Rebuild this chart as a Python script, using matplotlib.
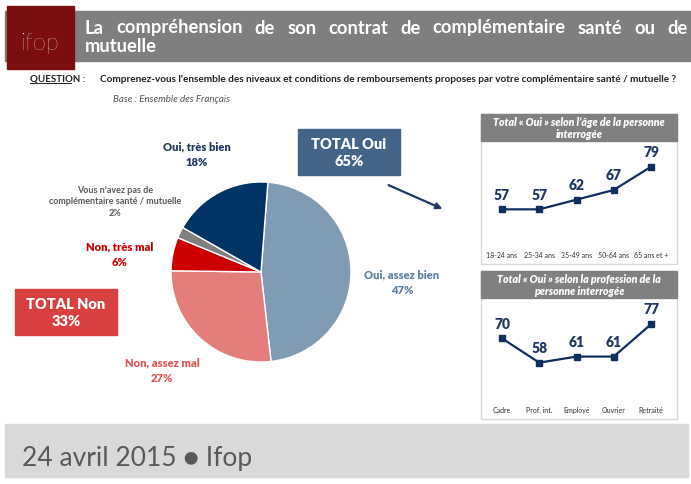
import matplotlib.pyplot as plt
from matplotlib.patches import Rectangle, FancyArrowPatch

plt.rcParams["font.family"] = ["Lato", "DejaVu Sans"]

# pie data
pie_labels = ["Oui, assez bien", "Non, assez mal", "Non, très mal",
              "Vous n'avez pas de\ncomplémentaire santé / mutuelle", "Oui, très bien"]
pie_values = [47, 27, 6, 2, 18]
pie_colors = ["#7f9bb5", "#e57d7b", "#cc0000", "#7f7f7f", "#003366"]

# line panels
age_labels = ["18-24 ans", "25-34 ans", "35-49 ans", "50-64 ans", "65 ans et +"]
age_values = [57, 57, 62, 67, 79]
prof_labels = ["Cadre", "Prof. int.", "Employé", "Ouvrier", "Retraité"]
prof_values = [70, 58, 61, 61, 77]

W, H = 691, 485
fig = plt.figure(figsize=(W / 100, H / 100), dpi=100)
bg = fig.add_axes([0, 0, 1, 1])
bg.set_xlim(0, W)
bg.set_ylim(H, 0)
bg.axis("off")


def fax(x0, y0, x1, y1):
    # pixel box -> figure fraction axes
    return fig.add_axes([x0 / W, (H - y1) / H, (x1 - x0) / W, (y1 - y0) / H])


def justified(words, x0, x1, y, **kw):
    # spread words evenly between x0 and x1 (pixel coords)
    r = fig.canvas.get_renderer()
    texts = [bg.text(0, y, w, va="center", **kw) for w in words]
    widths = []
    for t in texts:
        bb = t.get_window_extent(renderer=r)
        widths.append(bb.width)
    gap = (x1 - x0 - sum(widths)) / (len(words) - 1)
    x = x0
    for t, w in zip(texts, widths):
        t.set_x(x)
        x += w + gap


# header
bg.add_patch(Rectangle((5, 12), 686, 50, color="#7f7f7f"))
bg.add_patch(Rectangle((7, 7), 67, 63, color="#7b0f0f"))
bg.text(40, 44, "ifop", color="white", fontsize=17, fontweight="light",
        ha="center", va="center")
justified("La compréhension de son contrat de complémentaire santé ou de".split(),
          85, 688, 28, color="white", fontsize=13.2, fontweight="bold")
bg.text(85, 47, "mutuelle", color="white", fontsize=13.2, fontweight="bold", va="center")

bg.text(30, 79, "QUESTION :", fontsize=7, fontweight="bold", color="#222222", va="center")
bg.plot([30, 71], [84, 84], color="#222222", lw=0.7)
bg.text(100, 79, "Comprenez-vous l'ensemble des niveaux et conditions de remboursements proposes "
        "par votre complémentaire santé / mutuelle ?", fontsize=7.2, fontweight="bold",
        color="#222222", va="center")
bg.text(113, 99, "Base : Ensemble des Français", fontsize=7, style="italic",
        color="#555555", va="center")

# pie
pax = fax(261 - 90, 273 - 90, 261 + 90, 273 + 90)
pax.pie(pie_values, colors=pie_colors, startangle=85.6, counterclock=False,
        wedgeprops=dict(edgecolor="white", linewidth=1))
pax.set_xlim(-1, 1)
pax.set_ylim(-1, 1)

lab_style = dict(ha="center", va="center", fontsize=8, fontweight="heavy", linespacing=1.5)
bg.text(402, 283, "Oui, assez bien\n47%", color="#5f80a3", **lab_style)
bg.text(162, 371, "Non, assez mal\n27%", color="#e05555", **lab_style)
bg.text(120, 255, "Non, très mal\n6%", color="#cc0000", **lab_style)
bg.text(115, 202, "Vous n'avez pas de\ncomplémentaire santé / mutuelle\n2%",
        color="#595959", ha="center", va="center", fontsize=6.5, fontweight="bold",
        linespacing=1.3)
bg.text(197, 155, "Oui, très bien\n18%", color="#1f3864", **lab_style)

# total boxes
bg.add_patch(Rectangle((15, 290), 102, 46, color="#d94141"))
bg.text(66, 313, "TOTAL Non\n33%", color="white", fontsize=10.5, fontweight="heavy",
        ha="center", va="center", linespacing=1.3)
bg.add_patch(Rectangle((298, 130), 102, 46, color="#426488"))
bg.text(349, 153, "TOTAL Oui\n65%", color="white", fontsize=10.5, fontweight="heavy",
        ha="center", va="center", linespacing=1.3)
bg.add_patch(FancyArrowPatch((386, 185), (445, 211), arrowstyle="-|>", mutation_scale=9,
                             color="#1f3864", lw=1.6))


def panel(y0, y1, title, labels, values, ylim, lab_y):
    bg.add_patch(Rectangle((481, y0), 196, y1 - y0, facecolor="white",
                           edgecolor="#d9d9d9", lw=1))
    bg.add_patch(Rectangle((481, y0), 196, 27, color="#808080"))
    bg.text(579, y0 + 13.5, title, color="white", fontsize=7.6, fontweight="heavy",
            style="italic", ha="center", va="center", linespacing=1.15)
    ax = fax(481, y0 + 27, 677, lab_y)
    xs = list(range(len(values)))
    ax.plot(xs, values, color="#0f2f5f", lw=1.6, marker="s", markersize=5)
    for x, v in zip(xs, values):
        ax.annotate(str(v), (x, v), xytext=(0, 11), textcoords="offset points",
                    ha="center", va="center", fontsize=10, fontweight="heavy",
                    color="#1f3864")
    ax.set_xlim(-0.564, 4.698)
    ax.set_ylim(*ylim)
    ax.set_xticks(xs)
    ax.set_xticklabels(labels, fontsize=5, color="#333333")
    ax.tick_params(length=0, pad=5)
    ax.set_yticks([])
    for s in ax.spines.values():
        s.set_visible(False)
    ax.patch.set_alpha(0)


panel(115, 265, "Total « Oui » selon l’âge de la personne\ninterrogée",
      age_labels, age_values, (39.1, 92.3), 245)
panel(272, 420, "Total « Oui » selon la profession de la\npersonne interrogée",
      prof_labels, prof_values, (40.0, 90.0), 400)

# footer
bg.add_patch(Rectangle((5, 425), 683, 53, color="#d9d9d9"))
bg.text(22, 459, "24 avril 2015 ● Ifop", color="#595959", fontsize=19,
        va="center")

fig.savefig("out.png", dpi=100)
